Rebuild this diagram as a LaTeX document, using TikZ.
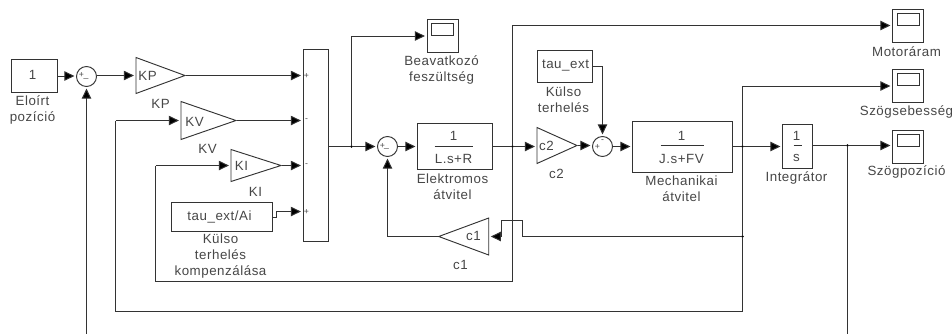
\documentclass[tikz,border=0pt]{standalone}
\usepackage{fontspec}
\setmainfont[LetterSpace=4]{Liberation Sans}
\usetikzlibrary{arrows.meta,shapes.geometric}
\colorlet{lc}{black!80}
\colorlet{tc}{black!72}
\tikzset{
 x=0.75pt,y=-0.75pt,
 lbl/.style={text=tc,font=\fontsize{10}{12}\selectfont,inner sep=0pt,align=center},
 sgn/.style={text=tc,font=\fontsize{6.5}{7}\selectfont,inner sep=0pt},
 blockbox/.style n args={2}{draw=lc,line width=0.7pt,fill=white,inner sep=0pt,minimum width=#1*0.75pt,minimum height=#2*0.75pt},
 sumnode/.style={circle,draw=lc,line width=0.7pt,inner sep=0pt,minimum size=20*0.75pt},
 gain/.style n args={2}{isosceles triangle,isosceles triangle stretches,draw=lc,line width=0.7pt,inner sep=0pt,minimum width=#2*0.75pt,minimum height=#1*0.75pt,anchor=lower side},
 conn/.style={color=lc,line width=0.7pt,-{Triangle[length=7.5pt,width=7pt,fill=black]},shorten >=1.2pt},
 plain/.style={draw=lc,line width=0.7pt},
 dot/.style={circle,fill=black,inner sep=0pt,minimum size=2.2pt},
 bar/.style={draw=lc,line width=0.6pt},
}
\newcommand{\scopeblock}[3]{%
 \node[blockbox={31}{33}] (#1) at (#2,#3) {};
 \node[blockbox={22}{12}] (#1s) at (#2,#3-6.5) {};
}
\begin{document}
\begin{tikzpicture}
\useasboundingbox (0,0) rectangle (952,333);
\fill[white] (0,0) rectangle (952,333);
\begin{scope}[shift={(0.5,0.5)}]
% source
\node[blockbox={46}{33}] (src) at (34,75.5) {};
\node[lbl] (srct) at (32,74) {1};
\node[lbl] (srcl) at (32,109) {Eloírt\\pozíció};
% sum 1
\node[sumnode] (s1) at (86,76) {};
\node[sgn] (s1p) at (81,74) {+};
\node[sgn] (s1m) at (85.5,78) {\_};
% gains
\node[gain={49}{36}] (kp) at (135,75) {};
\node[lbl] (kpt) at (147,75) {KP};
\node[lbl] (kpl) at (160,103) {KP};
\node[gain={55}{38}] (kv) at (180,120) {};
\node[lbl] (kvt) at (194,121) {KV};
\node[lbl] (kvl) at (207,148) {KV};
\node[gain={50}{32}] (ki) at (230,165) {};
\node[lbl] (kit) at (241,165) {KI};
\node[lbl] (kil) at (255,191) {KI};
% tau_ext/Ai
\node[blockbox={101}{29}] (ta) at (221.5,216.5) {};
\node[lbl] (tat) at (219,216) {tau\_ext/Ai};
\node[lbl] (tal) at (220,256) {Külso\\terhelés\\kompenzálása};
% mux
\node[blockbox={25}{192},anchor=north west] (mux) at (302,48) {};
\node[sgn] (m1) at (306,75) {+};
\node[sgn] (m2) at (306,120) {-};
\node[sgn] (m3) at (306,165) {-};
\node[sgn] (m4) at (306,211) {+};
% sum 2
\node[sumnode] (s2) at (387,146) {};
\node[sgn] (s2p) at (382,145) {+};
\node[sgn] (s2m) at (386,148) {\_};
% scope 1
\scopeblock{sc1}{442}{35.5}
\node[lbl] (sc1l) at (441,69) {Beavatkozó\\feszültség};
% electric
\node[blockbox={75}{46}] (el) at (454.5,146) {};
\node[lbl] (el1) at (453,135) {1};
\node[lbl] (el2) at (453,158) {L.s+R};
\coordinate (elb1) at (434,146); \coordinate (elb2) at (472,146);
\draw[bar] (elb1) -- (elb2);
\node[lbl] (ell) at (452,186) {Elektromos\\átvitel};
% c2
\node[gain={40}{36}] (c2) at (536,145) {};
\node[lbl] (c2t) at (546,145) {c2};
\node[lbl] (c2l) at (556,173) {c2};
% tau_ext
\node[blockbox={55}{32}] (te) at (564.5,66) {};
\node[lbl] (tet) at (565,65) {tau\_ext};
\node[lbl] (tel) at (563,99) {Külso\\terhelés};
% sum 3
\node[sumnode] (s3) at (602,146) {};
\node[sgn] (s3p) at (597,146) {+};
\node[sgn] (s3m) at (602,141) {-};
% mechanical
\node[blockbox={100}{51}] (me) at (682,146.5) {};
\node[lbl] (me1) at (681,135) {1};
\node[lbl] (me2) at (681,158) {J.s+FV};
\coordinate (meb1) at (660,145); \coordinate (meb2) at (703,145);
\draw[bar] (meb1) -- (meb2);
\node[lbl] (mel) at (681,188) {Mechanikai\\átvitel};
% integrator
\node[blockbox={30}{44}] (in) at (797,146) {};
\node[lbl] (in1) at (796,135) {1};
\node[lbl] (in2) at (796,157) {s};
\coordinate (inb1) at (793,145); \coordinate (inb2) at (801,145);
\draw[bar] (inb1) -- (inb2);
\node[lbl] (inl) at (796,177) {Integrátor};
% c1
\node[gain={50}{37},shape border rotate=180,anchor=apex] (c1) at (437,236) {};
\node[lbl] (c1t) at (473,235) {c1};
\node[lbl] (c1l) at (460,264) {c1};
% scopes right
\scopeblock{sc2}{907.5}{25}
\node[lbl] (sc2l) at (906,51) {Motoráram};
\scopeblock{sc3}{907.5}{85.5}
\node[lbl] (sc3l) at (906,111) {Szögsebesség};
\scopeblock{sc4}{907.5}{146.5}
\node[lbl] (sc4l) at (906,171) {Szögpozíció};
% junctions
\node[dot] (j1) at (351,146) {};
\node[dot] (j2) at (512,146) {};
\node[dot] (j3) at (742,146) {};
\node[dot] (j4) at (847,145) {};
\node[dot] (j5) at (742,236) {};
% free ends
\coordinate (e1) at (86,340);
\coordinate (e2) at (847,340);
% connectors
\draw[conn] (src.east) -- (s1.west |- src.east);
\draw[conn] (s1.east |- kp.lower side) -- (kp.lower side);
\draw[conn] (kp.apex) -- (kp.apex -| mux.west);
\draw[conn] (kv.apex) -- (kv.apex -| mux.west);
\draw[conn] (ki.apex) -- (ki.apex -| mux.west);
\draw[conn] (ta.east) -- ++(3,0) |- (m4 -| mux.west);
\draw[plain] (mux.east |- j1) -- (j1);
\draw[conn] (j1) -- (s2.west);
\draw[conn] (j1) |- (sc1.west);
\draw[conn] (s2.east) -- (el.west);
\draw[plain] (el.east) -- (j2);
\draw[conn] (j2) -- (c2.lower side |- j2);
\draw[conn] (j2) |- (sc2.west);
\draw[plain] (j2) -- (512,281) -- (155,281) -- (155,165);
\draw[conn] (155,165) -- (ki.lower side);
\draw[conn] (c2.apex) -- (s3.west |- c2.apex);
\draw[conn] (te.east) -| (s3.north);
\draw[conn] (s3.east) -- (me.west |- s3.east);
\draw[plain] (me.east |- j3) -- (j3);
\draw[conn] (j3) -- (in.west |- j3);
\draw[conn] (j3) |- (sc3.west);
\draw[plain] (j3) -- (j5) -- (742,311) -- (115,311) -- (115,120);
\draw[conn] (115,120) -- (kv.lower side);
\draw[plain] (j5) -- (522,236) -- (522,220) -- (501,220) -- (501,236);
\draw[conn] (501,236) -- (c1.lower side);
\draw[conn] (c1.apex) -| (s2.south);
\draw[plain] (in.east |- j4) -- (j4);
\draw[conn] (j4) -- (sc4.west |- j4);
\draw[plain] (j4) -- (e2);
\draw[conn] (e1) -- (s1.south);
\end{scope}
\end{tikzpicture}
\end{document}
